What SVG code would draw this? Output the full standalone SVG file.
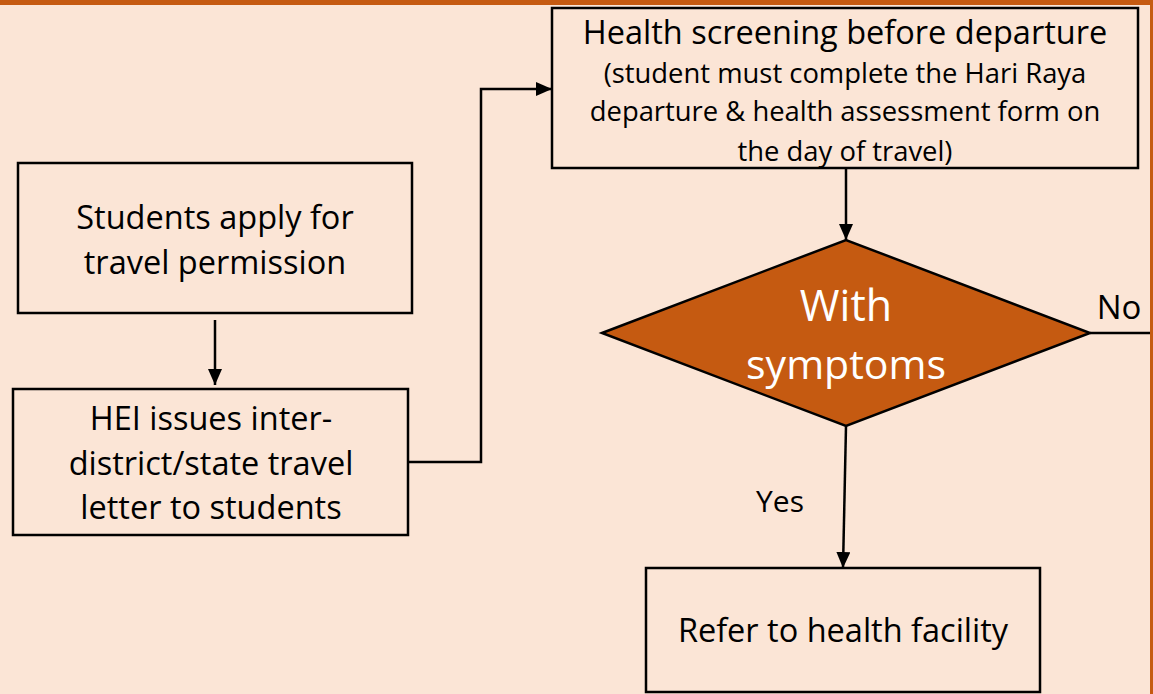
<svg xmlns="http://www.w3.org/2000/svg" width="1153" height="694" viewBox="0 0 1153 694">
  <defs>
    <marker id="arrow" viewBox="0 0 16 14" refX="16" refY="7" markerWidth="16" markerHeight="14" markerUnits="userSpaceOnUse" orient="auto">
      <path d="M0,0 L16,7 L0,14 z" fill="#000"/>
    </marker>
    <style>
      .box { fill: #FBE5D6; stroke: #000; stroke-width: 2.5; }
      .conn { fill: none; stroke: #000; stroke-width: 2.5; }
      .t { font-family: "Open Sans", "Liberation Sans", Arial, sans-serif; fill: #000; text-anchor: middle; }
      .big { font-size: 32.5px; }
      .small { font-size: 27.4px; }
      .light { fill: #fff; }
    </style>
  </defs>

  <!-- page background with orange frame -->
  <rect x="0" y="0" width="1153" height="694" fill="#FBE5D6"/>
  <rect x="0" y="0" width="1153" height="5" fill="#C55A11"/>
  <rect x="1150" y="0" width="3" height="694" fill="#C55A11"/>

  <!-- connectors -->
  <g id="connectors">
    <path class="conn" d="M215,320 V385" marker-end="url(#arrow)"/>
    <path class="conn" d="M408,462 H481 V89 H552" marker-end="url(#arrow)"/>
    <path class="conn" d="M846,168 V240" marker-end="url(#arrow)"/>
    <path class="conn" d="M846,426 L843,568" marker-end="url(#arrow)"/>
    <path class="conn" d="M1090,333 H1150"/>
    <text class="t" x="1119" y="319" style="font-size:33px">No</text>
    <text class="t" x="780" y="512" style="font-size:30px">Yes</text>
  </g>

  <g id="apply">
    <rect class="box" x="18" y="163" width="394" height="150"/>
    <text class="t big" x="215" y="229">Students apply for</text>
    <text class="t big" x="215" y="274">travel permission</text>
  </g>

  <g id="letter">
    <rect class="box" x="13" y="389" width="395" height="146"/>
    <text class="t big" x="211" y="430">HEI issues inter-</text>
    <text class="t big" x="211" y="475">district/state travel</text>
    <text class="t big" x="211" y="519">letter to students</text>
  </g>

  <g id="screening">
    <rect class="box" x="552" y="8" width="586" height="160"/>
    <text class="t big" x="845" y="44">Health screening before departure</text>
    <text class="t small" x="845" y="83">(student must complete the Hari Raya</text>
    <text class="t small" x="845" y="121">departure &amp; health assessment form on</text>
    <text class="t small" x="845" y="161">the day of travel)</text>
  </g>

  <g id="symptoms">
    <polygon points="602,333 846,240 1090,333 846,426" fill="#C55A11" stroke="#000" stroke-width="2.5"/>
    <text class="t light" x="846" y="321" style="font-size:43px">With</text>
    <text class="t light" x="846" y="379" style="font-size:41px">symptoms</text>
  </g>

  <g id="refer">
    <rect class="box" x="646" y="568" width="394" height="124"/>
    <text class="t big" x="843" y="642">Refer to health facility</text>
  </g>
</svg>
